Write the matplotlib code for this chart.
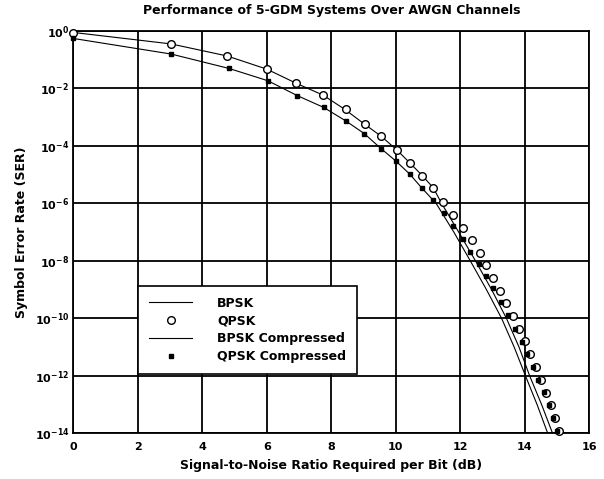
import matplotlib
matplotlib.use('Agg')
import matplotlib.pyplot as plt
from matplotlib.ticker import FixedLocator

plt.rcParams['font.family'] = ['DejaVu Sans']
plt.rcParams['font.weight'] = 'bold'
plt.rcParams['axes.titleweight'] = 'bold'
plt.rcParams['axes.labelweight'] = 'bold'
plt.rcParams['mathtext.fontset'] = 'custom'
plt.rcParams['mathtext.rm'] = 'DejaVu Sans:bold'
plt.rcParams['mathtext.default'] = 'rm'

# curve values (SNR in dB, SER)
bpsk_snr = [0.0, 3.03, 4.77, 6.0, 6.92, 7.74, 8.41, 9.04, 9.54, 10.04, 10.43, 10.82, 11.16,
            11.42, 11.95, 12.47, 12.97, 13.43, 13.82, 14.15, 14.52, 14.86]
bpsk_ser = [0.89, 0.355, 0.135, 0.047, 0.015, 5.9e-3, 1.9e-3, 5.6e-4, 2.2e-4, 7.1e-5, 2.6e-5,
            9.3e-6, 3.5e-6, 1e-6, 1e-7, 1e-8, 1e-9, 1e-10, 1e-11, 1e-12, 1e-13, 1e-14]

bpsk_c_snr = [0.0, 3.03, 4.82, 6.03, 6.95, 7.76, 8.45, 9.02, 9.54, 10.0, 10.43, 10.8,
              11.25, 11.8, 12.31, 12.81, 13.28, 13.67, 14.02, 14.38, 14.71]
bpsk_c_ser = [0.55, 0.158, 0.050, 0.0186, 5.6e-3, 2.2e-3, 7.4e-4, 2.7e-4, 8.1e-5, 3.0e-5,
              1.05e-5, 3.5e-6, 1e-6, 1e-7, 1e-8, 1e-9, 1e-10, 1e-11, 1e-12, 1e-13, 1e-14]

qpsk_snr = [0.0, 3.03, 4.77, 6.0, 6.92, 7.74, 8.45, 9.04, 9.54, 10.04, 10.43, 10.82, 11.16,
            11.47, 11.78, 12.07, 12.35, 12.6, 12.81, 13.02, 13.22, 13.43, 13.64, 13.82, 13.99,
            14.16, 14.34, 14.50, 14.66, 14.80, 14.93, 15.05]
qpsk_ser = [0.83, 0.355, 0.135, 0.047, 0.015, 5.9e-3, 1.9e-3, 5.6e-4, 2.2e-4, 7.1e-5, 2.6e-5,
            9.3e-6, 3.5e-6, 1.1e-6, 3.9e-7, 1.45e-7, 5.5e-8, 1.9e-8, 7.1e-9, 2.6e-9, 9.1e-10,
            3.3e-10, 1.2e-10, 4.2e-11, 1.6e-11, 5.8e-12, 2.1e-12, 7.1e-13, 2.6e-13, 9.5e-14,
            3.3e-14, 1.2e-14]

qpsk_c_snr = [0.0, 3.03, 4.82, 6.03, 6.95, 7.76, 8.45, 9.02, 9.54, 10.0, 10.43, 10.80, 11.16,
              11.49, 11.78, 12.07, 12.31, 12.58, 12.81, 13.02, 13.27, 13.48, 13.69, 13.90,
              14.07, 14.24, 14.41, 14.58, 14.74, 14.88, 15.0]
qpsk_c_ser = [0.55, 0.158, 0.050, 0.0186, 5.6e-3, 2.2e-3, 7.4e-4, 2.7e-4, 8.1e-5, 3.0e-5,
              1.05e-5, 3.5e-6, 1.3e-6, 4.5e-7, 1.6e-7, 6.0e-8, 2.1e-8, 7.8e-9, 3.0e-9, 1.1e-9,
              3.8e-10, 1.3e-10, 4.2e-11, 1.55e-11, 5.6e-12, 2.0e-12, 7.4e-13, 2.7e-13, 1.0e-13,
              3.5e-14, 1.25e-14]

x_ticks = [0, 2, 4, 6, 8, 10, 12, 14, 16]
y_ticks = [1e0, 1e-2, 1e-4, 1e-6, 1e-8, 1e-10, 1e-12, 1e-14]

fig = plt.figure(figsize=(6.04, 4.79), dpi=100)
ax = fig.add_axes([0.1214, 0.0954, 0.8543, 0.8399])

ax.plot(bpsk_snr, bpsk_ser, 'k-', lw=0.8, label='BPSK', zorder=3)
ax.plot(qpsk_snr, qpsk_ser, 'o', ms=5.5, mfc='white', mec='black', mew=1.0,
        label='QPSK', zorder=4, clip_on=False)
ax.plot(bpsk_c_snr, bpsk_c_ser, 'k-', lw=0.8, label='BPSK Compressed', zorder=3)
ax.plot(qpsk_c_snr, qpsk_c_ser, 's', ms=3, color='black',
        label='QPSK Compressed', zorder=5, clip_on=False)

ax.set_yscale('log')
ax.set_xlim(0, 16)
ax.set_ylim(1e-14, 1e0)
ax.xaxis.set_major_locator(FixedLocator(x_ticks))
ax.yaxis.set_major_locator(FixedLocator(y_ticks))
ax.yaxis.set_minor_locator(FixedLocator([]))
ax.tick_params(length=0, labelsize=8)
ax.tick_params(axis='x', pad=6)
ax.tick_params(axis='y', pad=3)
ax.grid(True, color='black', lw=1.3)
for s in ax.spines.values():
    s.set_linewidth(1.3)

ax.set_title('Performance of 5-GDM Systems Over AWGN Channels', fontsize=9, pad=12)
ax.set_xlabel('Signal-to-Noise Ratio Required per Bit (dB)', fontsize=9, labelpad=5)
ax.set_ylabel('Symbol Error Rate (SER)', fontsize=9, labelpad=5)

leg = ax.legend(loc='upper left', bbox_to_anchor=(138 / 604, 1 - 286 / 479),
                bbox_transform=fig.transFigure, borderaxespad=0, fontsize=9,
                fancybox=False, framealpha=1, edgecolor='black', handlelength=3.5,
                handletextpad=2.0, labelspacing=0.38, borderpad=0.85)
leg.get_frame().set_linewidth(1.2)
leg.set_zorder(10)

fig.savefig('out.png', dpi=100)
